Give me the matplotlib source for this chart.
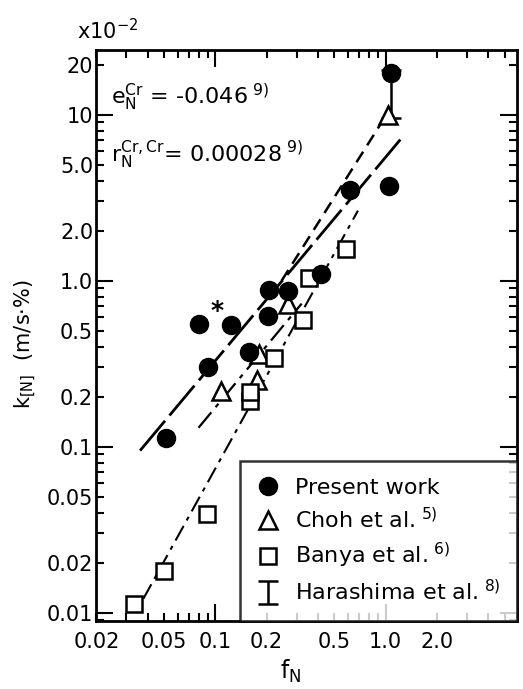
import numpy as np
import matplotlib
matplotlib.use("Agg")
import matplotlib.pyplot as plt
from matplotlib.ticker import LogLocator, FuncFormatter

# k[N] in units of 1e-2 m/(s*%)
present_f = [0.051, 0.080, 0.091, 0.124, 0.158, 0.203, 0.206, 0.266, 0.419, 0.62, 1.04, 1.08]
present_k = [0.112, 0.55, 0.30, 0.54, 0.37, 0.615, 0.88, 0.87, 1.10, 3.53, 3.73, 17.7]

choh_f = [0.108, 0.175, 0.18, 0.266, 1.03]
choh_k = [0.217, 0.253, 0.363, 0.72, 10.0]

banya_f = [0.0334, 0.050, 0.0887, 0.16, 0.16, 0.22, 0.325, 0.356, 0.585]
banya_k = [0.0112, 0.0179, 0.039, 0.187, 0.214, 0.344, 0.58, 1.03, 1.54]

hara_f = [1.07]
hara_lo = [9.5]
hara_hi = [18.5]

# fitted lines (end points)
fit_present_f = [0.0361, 1.274]
fit_present_k = [0.0946, 7.47]
fit_choh_f = [0.0796, 0.321]
fit_choh_k = [0.130, 0.727]
fit_upper_f = [0.245, 0.961]
fit_upper_k = [1.0, 9.2]
fit_banya_f = [0.0377, 0.687]
fit_banya_k = [0.0121, 2.64]

x_labels = {0.02: "0.02", 0.05: "0.05", 0.1: "0.1", 0.2: "0.2", 0.5: "0.5", 1.0: "1.0", 2.0: "2.0"}
y_labels = {0.01: "0.01", 0.02: "0.02", 0.05: "0.05", 0.1: "0.1", 0.2: "0.2", 0.5: "0.5",
            1.0: "1.0", 2.0: "2.0", 5.0: "5.0", 10.0: "10", 20.0: "20"}

plt.rcParams['font.family'] = ['DejaVu Sans']
plt.rcParams['mathtext.fontset'] = 'dejavusans'

fig = plt.figure(figsize=(5.23, 6.89), dpi=100)
ax = fig.add_axes([0.1836, 0.0987, 0.8049, 0.8287])
ax.set_xscale('log')
ax.set_yscale('log')
ax.set_xlim(0.0199, 5.9)
ax.set_ylim(0.0089, 24.5)

# fit lines
ax.plot(fit_present_f, fit_present_k, color='k', lw=2, dashes=(14, 2.5))
ax.plot(fit_choh_f, fit_choh_k, color='k', lw=1.6, dashes=(9, 3, 2, 3))
ax.plot(fit_upper_f, fit_upper_k, color='k', lw=1.8, dashes=(5, 3))
ax.plot(fit_banya_f, fit_banya_k, color='k', lw=1.5, dashes=(8, 3, 2, 3))

# data
hara_mid = [np.sqrt(a * b) for a, b in zip(hara_lo, hara_hi)]
hara_err = [[m - a for m, a in zip(hara_mid, hara_lo)], [b - m for m, b in zip(hara_mid, hara_hi)]]
eb = ax.errorbar(hara_f, hara_mid, yerr=hara_err, fmt='none', ecolor='k', elinewidth=1.8,
                 capsize=7, capthick=1.8, label=r'Harashima et al.$^{\ 8)}$')
tri, = ax.plot(choh_f, choh_k, '^', ms=13, mfc='white', mec='k', mew=1.8,
               ls='none', label=r'Choh et al.$^{\ 5)}$')
sq, = ax.plot(banya_f, banya_k, 's', ms=11, mfc='white', mec='k', mew=1.8,
              ls='none', label=r'Banya et al.$^{\ 6)}$')
circ, = ax.plot(present_f, present_k, 'o', ms=13, color='k', ls='none', label='Present work')

ax.annotate('*', (present_f[1], present_k[1]), xytext=(8, 4), textcoords='offset points',
            fontsize=18, fontweight='bold')

# ticks
for axis in (ax.xaxis, ax.yaxis):
    axis.set_major_locator(LogLocator(base=10, subs=(1.0,)))
    axis.set_minor_locator(LogLocator(base=10, subs=np.arange(2, 10)))

def fmt_from(d):
    def f(v, pos):
        for key, lab in d.items():
            if abs(v - key) / key < 1e-6:
                return lab
        return ''
    return FuncFormatter(f)

ax.xaxis.set_major_formatter(fmt_from(x_labels))
ax.xaxis.set_minor_formatter(fmt_from(x_labels))
ax.yaxis.set_major_formatter(fmt_from(y_labels))
ax.yaxis.set_minor_formatter(fmt_from(y_labels))

ax.tick_params(which='both', direction='in', top=True, right=True, labelsize=15, width=1.5)
ax.tick_params(which='major', length=12)
ax.tick_params(which='minor', length=5.5)
ax.tick_params(axis='x', which='both', pad=8)
ax.tick_params(axis='y', which='both', pad=2)
for s in ax.spines.values():
    s.set_linewidth(2)

# texts
ax.text(0.035, 0.945, r'e$_\mathrm{N}^\mathrm{Cr}$ = -0.046$^{\ 9)}$', transform=ax.transAxes,
        fontsize=16, va='top')
ax.text(0.035, 0.845, r'r$_\mathrm{N}^\mathrm{Cr,Cr}$= 0.00028$^{\ 9)}$', transform=ax.transAxes,
        fontsize=16, va='top')
fig.text(0.148, 0.955, r'x10$^{-2}$', fontsize=15, va='center')
fig.text(0.048, 0.50, r'k$_{[\mathrm{N}]}$  (m/s$\cdot$%)', rotation=90, fontsize=15,
         ha='center', va='center')
fig.text(0.555, 0.025, r'f$_\mathrm{N}$', fontsize=17, ha='center', va='center')

leg = ax.legend(handles=[circ, tri, sq, eb], loc='lower right', bbox_to_anchor=(1, 0),
                borderaxespad=0, fontsize=16, frameon=True, fancybox=False, edgecolor='k',
                handlelength=1.0, handletextpad=0.7, labelspacing=0.4, borderpad=0.75)
leg.get_frame().set_linewidth(1.8)

fig.savefig('out.png', dpi=100)
